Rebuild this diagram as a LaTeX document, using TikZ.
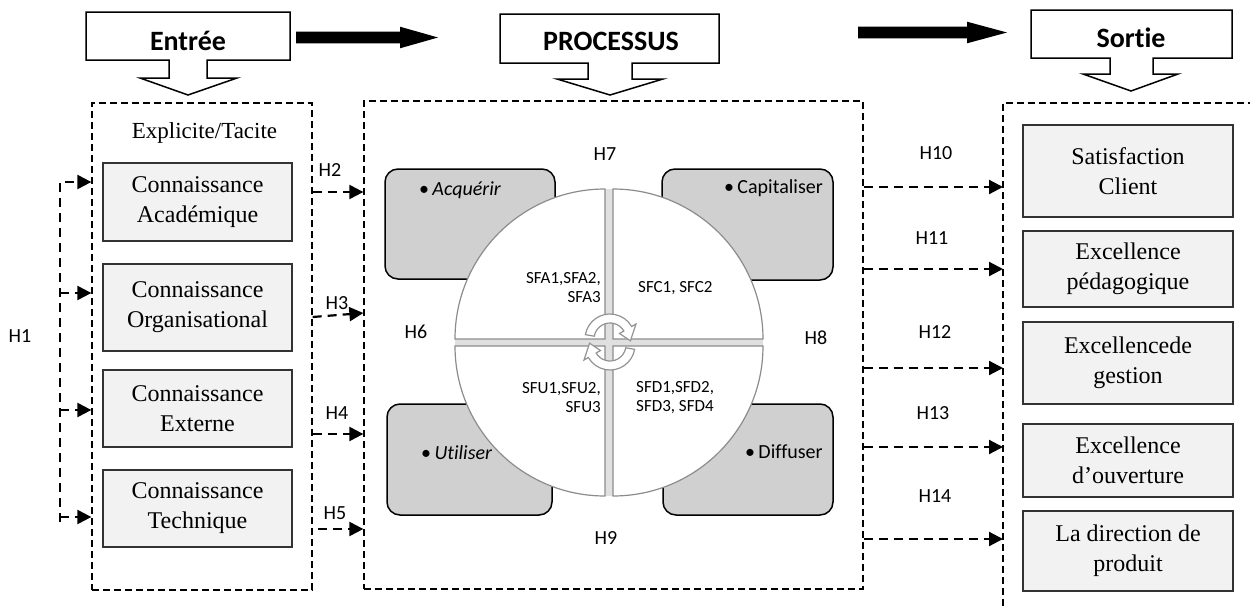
\documentclass[tikz,border=0pt]{standalone}
\usepackage{fontspec}
\setmainfont{Liberation Serif}
\newfontfamily\sansfam[Ligatures={NoCommon}]{Carlito}
\usetikzlibrary{arrows.meta,calc}
\definecolor{boxfill}{HTML}{F2F2F2}
\definecolor{phasefill}{HTML}{D0D0D0}
\definecolor{segline}{HTML}{8C8C8C}
\definecolor{gapfill}{HTML}{E0E0E0}
\begin{document}
\begin{tikzpicture}[x=1pt,y=-1pt,
  frame/.style={draw=black, line width=1.3pt, dash pattern=on 7pt off 4pt},
  link/.style={draw=black, line width=2.2pt, dash pattern=on 9pt off 6pt, -{Triangle[length=14pt,width=14pt]}},
  kbox/.style={draw=black!80, fill=boxfill, line width=1.3pt, align=center, inner sep=0pt, font=\fontsize{24}{30}\selectfont},
  phase/.style={draw=black, fill=phasefill, line width=1.5pt, rounded corners=13pt, inner sep=0pt},
  seg/.style={draw=segline, fill=white, line width=1.2pt},
  turn/.style={draw=gray!85, fill=white, line width=1.2pt},
  callout/.style={draw=black, fill=white, line width=1.5pt},
  hdr/.style={font=\sansfam\bfseries\fontsize{28}{32}\selectfont, inner sep=0pt, anchor=base},
  hlab/.style={font=\sansfam\fontsize{20}{24}\selectfont, inner sep=0pt},
  sf/.style={font=\sansfam\fontsize{17}{19}\selectfont, inner sep=0pt},
  act/.style={font=\sansfam\fontsize{20}{24}\selectfont, inner sep=0pt, anchor=west},
]
% page
\fill[white] (0,0) rectangle (1250,605);
\useasboundingbox (0,0) rectangle (1250,605);

% ---- header callouts (box with a downward block arrow)
\filldraw[callout] (86,12) -- (290,12) -- (290,60) -- (207,60) -- (207,78) -- (237,78)
  -- (188,95) -- (140,78) -- (169,78) -- (169,60) -- (86,60) -- cycle;
\filldraw[callout] (500,14) -- (719,14) -- (719,63) -- (632,63) -- (632,79) -- (663,79)
  -- (610,95) -- (557,79) -- (588,79) -- (588,63) -- (500,63) -- cycle;
\filldraw[callout] (1031,10) -- (1232,10) -- (1232,58) -- (1153,58) -- (1153,74) -- (1178,74)
  -- (1131,91) -- (1083,74) -- (1110,74) -- (1110,58) -- (1031,58) -- cycle;
\node[hdr] (hIn)   at (188,50) {Entrée};
\node[hdr] (hProc) at (611,50) {PROCESSUS};
\node[hdr] (hOut)  at (1131,47) {Sortie};

% ---- black block arrows between the stages
\coordinate (fa1) at (296,37.5);
\coordinate (fa2) at (858,32.5);
\fill[black] (fa1) ++(0,-5.8) -- ++(104,0) -- ++(0,-5) -- ++(38,10.8) -- ++(-38,10.8)
  -- ++(0,-5) -- ++(-104,0) -- cycle;
\fill[black] (fa2) ++(0,-5.8) -- ++(109,0) -- ++(0,-5) -- ++(40,10.8) -- ++(-40,10.8)
  -- ++(0,-5) -- ++(-109,0) -- cycle;

% ---- dashed containers
\node[frame, minimum width=220pt, minimum height=487pt] (boxL) at (202,346.5) {};
\node[frame, minimum width=499pt, minimum height=488pt] (boxM) at (613.5,345) {};
\coordinate (outTL) at (1003,103);
\draw[frame] (1003,606) -- (outTL) -- (1251,103);

% ---- input side
\node[anchor=base, font=\fontsize{23}{28}\selectfont, inner sep=0pt] (kind) at (204.5,138) {Explicite/Tacite};
\node[kbox, minimum width=189pt, minimum height=78pt] (kA) at (197.5,202)   {Connaissance\\Académique};
\node[kbox, minimum width=189pt, minimum height=87pt] (kO) at (197.5,307.5) {Connaissance\\Organisational};
\node[kbox, minimum width=189pt, minimum height=77pt] (kE) at (197.5,408.5) {Connaissance\\Externe};
\node[kbox, minimum width=189pt, minimum height=77pt] (kT) at (197.5,508.5) {Connaissance\\Technique};

% ---- output side
\node[kbox, minimum width=210pt, minimum height=92pt] (oS) at (1128,171)   {Satisfaction\\Client};
\node[kbox, minimum width=210pt, minimum height=76pt] (oP) at (1128,269)   {Excellence\\pédagogique};
\node[kbox, minimum width=210pt, minimum height=82pt] (oG) at (1128,363)   {Excellencede\\gestion};
\node[kbox, minimum width=210pt, minimum height=73pt] (oU) at (1128,460.5) {Excellence\\d’ouverture};
\node[kbox, minimum width=210pt, minimum height=80pt] (oD) at (1128,551)   {La direction de\\produit};

% ---- process: four phases around the segmented circle
\node[phase, minimum width=170pt, minimum height=110pt] (pA) at (470,224)     {};
\node[phase, minimum width=171pt, minimum height=111pt] (pC) at (747.5,224.5) {};
\node[phase, minimum width=165pt, minimum height=111pt] (pU) at (469.5,459.5) {};
\node[phase, minimum width=170pt, minimum height=111pt] (pD) at (748,459.5)   {};
\node[act] (tA) at (419,190) {\textbullet\,\textit{Acquérir}};
\node[act] (tC) at (724,188) {\textbullet\,Capitaliser};
\node[act] (tU) at (421,453) {\textbullet\,\textit{Utiliser}};
\node[act] (tD) at (745,452) {\textbullet\,Diffuser};

\fill[gapfill] (605,189) rectangle (613,496);
\fill[gapfill] (455,339) rectangle (763,346);
\coordinate (qTL) at (605,339);
\coordinate (qTR) at (613,339);
\coordinate (qBL) at (605,346);
\coordinate (qBR) at (613,346);
\filldraw[seg] (qTL) -- ++(180:150) arc[start angle=180, end angle=270, radius=150] -- cycle;
\filldraw[seg] (qTR) -- ++(270:150) arc[start angle=270, end angle=360, radius=150] -- cycle;
\filldraw[seg] (qBR) -- ++(0:150)   arc[start angle=0,   end angle=90,  radius=150] -- cycle;
\filldraw[seg] (qBL) -- ++(90:150)  arc[start angle=90,  end angle=180, radius=150] -- cycle;

\node[sf, anchor=east, align=right] (sA) at (601,288) {SFA1,SFA2,\\SFA3};
\node[sf, anchor=west]              (sC) at (638,288) {SFC1, SFC2};
\node[sf, anchor=east, align=right] (sU) at (601,398) {SFU1,SFU2,\\SFU3};
\node[sf, anchor=west, align=left]  (sD) at (636,398) {SFD1,SFD2,\\SFD3, SFD4};

% ---- cycle arrows at the centre
\coordinate (cu) at (610,339);
\coordinate (cl) at (610,345);
\filldraw[turn] ($(cu)+(190:25)$) arc[start angle=190, end angle=330, radius=25]
  -- ($(cu)+(330:30)$) -- ($(cu)+(5:20.5)$) -- ($(cu)+(330:11)$) -- ($(cu)+(330:16)$)
  arc[start angle=330, end angle=190, radius=16] -- cycle;
\filldraw[turn] ($(cl)+(10:25)$) arc[start angle=10, end angle=150, radius=25]
  -- ($(cl)+(150:30)$) -- ($(cl)+(185:20.5)$) -- ($(cl)+(150:11)$) -- ($(cl)+(150:16)$)
  arc[start angle=150, end angle=10, radius=16] -- cycle;

% ---- hypothesis labels
\node[hlab] (H1)  at (20,336)  {H1};
\node[hlab] (H2)  at (330,170) {H2};
\node[hlab] (H3)  at (337,303) {H3};
\node[hlab] (H4)  at (337,413) {H4};
\node[hlab] (H5)  at (335,513) {H5};
\node[hlab] (H6)  at (416,332) {H6};
\node[hlab] (H7)  at (605,154) {H7};
\node[hlab] (H8)  at (816,338) {H8};
\node[hlab] (H9)  at (606,538) {H9};
\node[hlab] (H10) at (936,153) {H10};
\node[hlab] (H11) at (932,238) {H11};
\node[hlab] (H12) at (935,332) {H12};
\node[hlab] (H13) at (933,413) {H13};
\node[hlab] (H14) at (935,496) {H14};

% ---- H1: fan of arrows into the input container
\coordinate (h1top) at (60,182);
\coordinate (h1bot) at (60,522);
\coordinate (r1b) at (0,293);
\coordinate (r1c) at (0,410);
\coordinate (r1d) at (0,517);
\draw[link] (h1bot) -- (h1top) -- (boxL.west |- h1top);
\draw[link] (h1bot |- r1b) -- (boxL.west |- r1b);
\draw[link] (h1bot |- r1c) -- (boxL.west |- r1c);
\draw[link] (h1bot |- r1d) -- (boxL.west |- r1d);

% ---- H2..H5: input container to process container
\coordinate (r2)  at (0,192);
\coordinate (r3a) at (0,317);
\coordinate (r3b) at (0,313);
\coordinate (r4)  at (0,434);
\coordinate (r5)  at (0,529);
\draw[link] (boxL.east |- r2)  -- (boxM.west |- r2);
\draw[link] (boxL.east |- r3a) -- (boxM.west |- r3b);
\draw[link] (boxL.east |- r4)  -- (boxM.west |- r4);
\draw[link] ($(boxL.east |- r5)+(5,0)$) -- (boxM.west |- r5);

% ---- H10..H14: process container to output container
\coordinate (r10) at (0,187);
\coordinate (r11) at (0,269);
\coordinate (r12) at (0,368);
\coordinate (r13) at (0,447);
\coordinate (r14) at (0,539);
\draw[link] (boxM.east |- r10) -- (outTL |- r10);
\draw[link] (boxM.east |- r11) -- (outTL |- r11);
\draw[link] (boxM.east |- r12) -- (outTL |- r12);
\draw[link] (boxM.east |- r13) -- (outTL |- r13);
\draw[link] (boxM.east |- r14) -- (outTL |- r14);
\end{tikzpicture}
\end{document}
